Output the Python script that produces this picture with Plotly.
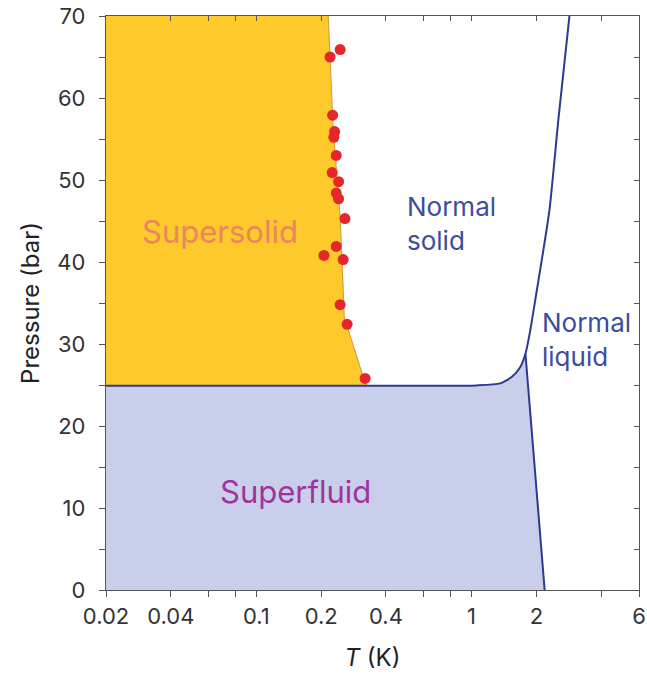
import plotly.graph_objects as go

# ---- data ----
# melting curve (solid / liquid boundary)
melt_T = [0.02, 0.6, 1.06, 1.36, 1.54, 1.685, 1.78, 1.875, 1.978, 2.30, 2.53, 2.85]
melt_P = [24.9, 24.9, 24.95, 25.2, 26.0, 27.2, 28.8, 31.7, 35.4, 46.3, 57.3, 70.0]
# lambda line (superfluid / normal liquid)
lam_T = [2.186, 1.78]
lam_P = [0.0, 28.8]
# supersolid onset boundary
ss_T = [0.2157, 0.2275, 0.2452, 0.2531, 0.256, 0.317, 0.327]
ss_P = [70.0, 56.1, 45.5, 37.8, 33.3, 25.6, 24.9]
# measured onset points
pts_T = [0.245, 0.220, 0.226, 0.231, 0.229, 0.235, 0.225, 0.241, 0.235, 0.241,
         0.258, 0.235, 0.206, 0.253, 0.245, 0.264, 0.32]
pts_P = [65.9, 65.0, 57.9, 55.9, 55.2, 53.0, 50.9, 49.8, 48.4, 47.7,
         45.3, 41.9, 40.8, 40.3, 34.8, 32.4, 25.8]

x_tickvals = [0.02, 0.04, 0.06, 0.08, 0.1, 0.2, 0.4, 0.6, 0.8, 1, 2, 4, 6]
x_ticktext = ["0.02", "0.04", "", "", "0.1", "0.2", "0.4", "", "", "1", "2", "", "6"]
y_tickvals = list(range(0, 71, 5))
y_ticktext = [str(v) if v % 10 == 0 else "" for v in y_tickvals]

T_MIN, T_MAX = 0.02, 6
P_MIN, P_MAX = 0, 70

YELLOW = "#fdc92b"
LAV = "#c9cfeb"
NAVY = "#2d3a8e"
RED = "#e5262a"

fig = go.Figure()

# supersolid fill
fig.add_trace(go.Scatter(
    x=[T_MIN] + ss_T + [T_MIN], y=[P_MAX] + ss_P + [ss_P[-1]],
    fill="toself", fillcolor=YELLOW, line=dict(width=0), mode="lines",
    hoverinfo="skip", showlegend=False))

# superfluid fill: below melting curve up to junction, left of lambda line
j = melt_T.index(lam_T[-1])
sf_x = [T_MIN, lam_T[0]] + melt_T[j::-1]
sf_y = [P_MIN, lam_P[0]] + melt_P[j::-1]
fig.add_trace(go.Scatter(
    x=sf_x, y=sf_y, fill="toself", fillcolor=LAV, line=dict(width=0),
    mode="lines", hoverinfo="skip", showlegend=False))

# supersolid boundary thin line
fig.add_trace(go.Scatter(x=ss_T, y=ss_P, mode="lines",
                         line=dict(color="#c99a3a", width=1),
                         hoverinfo="skip", showlegend=False))

# melting curve and lambda line
fig.add_trace(go.Scatter(x=melt_T, y=melt_P, mode="lines",
                         line=dict(color=NAVY, width=2, shape="spline", smoothing=0.6),
                         showlegend=False))
fig.add_trace(go.Scatter(x=lam_T, y=lam_P, mode="lines",
                         line=dict(color=NAVY, width=2), showlegend=False))

# data points
fig.add_trace(go.Scatter(x=pts_T, y=pts_P, mode="markers",
                         marker=dict(color=RED, size=11, line=dict(width=0)),
                         showlegend=False))

# invisible trace for mirrored inner ticks
fig.add_trace(go.Scatter(x=[T_MIN], y=[P_MIN], xaxis="x2", yaxis="y2",
                         mode="markers", marker=dict(opacity=0),
                         hoverinfo="skip", showlegend=False))

FONT = "Inter, Liberation Sans, Arial, sans-serif"
AX = "#555555"

fig.update_layout(
    width=647, height=680,
    margin=dict(l=106, r=8, t=16, b=90, autoexpand=False),
    paper_bgcolor="white", plot_bgcolor="white",
    font=dict(family=FONT, size=22, color="#333333"),
    xaxis=dict(type="log", range=[0.3010 - 2, 0.77815], automargin=False,
               tickvals=x_tickvals, ticktext=x_ticktext,
               ticks="outside", ticklen=6, tickwidth=1.2, tickcolor=AX,
               showline=True, linecolor=AX, linewidth=1.3, mirror=True,
               showgrid=False, zeroline=False,
               tickfont=dict(size=22, color="#333333"),
               title=dict(text="<i>T</i> (K)", font=dict(size=24, color="#222222"),
                          standoff=21)),
    yaxis=dict(range=[P_MIN, P_MAX], automargin=False,
               tickvals=y_tickvals, ticktext=y_ticktext,
               ticks="outside", ticklen=6, tickwidth=1.2, tickcolor=AX,
               ticklabelstandoff=9,
               showline=True, linecolor=AX, linewidth=1.3, mirror=True,
               showgrid=False, zeroline=False,
               tickfont=dict(size=22, color="#333333"),
               title=dict(text="Pressure (bar)", font=dict(size=24, color="#222222"),
                          standoff=10)),
    xaxis2=dict(type="log", range=[0.3010 - 2, 0.77815], overlaying="x", side="top",
                automargin=False,
                tickvals=x_tickvals, ticks="inside", ticklen=5, tickwidth=1.2,
                tickcolor=AX, showticklabels=False, showline=False,
                showgrid=False, zeroline=False),
    yaxis2=dict(range=[P_MIN, P_MAX], overlaying="y", side="right",
                automargin=False,
                tickvals=y_tickvals, ticks="inside", ticklen=5, tickwidth=1.2,
                tickcolor=AX, showticklabels=False, showline=False,
                showgrid=False, zeroline=False),
)

# region labels
fig.add_annotation(x=-1.169, y=43.7, xref="x", yref="y", text="Supersolid",
                   showarrow=False, font=dict(size=31, color="#ea8560", family=FONT))
fig.add_annotation(x=-0.82, y=12.0, xref="x", yref="y", text="Superfluid",
                   showarrow=False, font=dict(size=31, color="#a0339b", family=FONT))
fig.add_annotation(x=-0.308, y=44.7, xref="x", yref="y", text="Normal<br>solid",
                   showarrow=False, xanchor="left", align="left",
                   font=dict(size=26, color="#3b4d9c", family=FONT))
fig.add_annotation(x=0.318, y=30.6, xref="x", yref="y", text="Normal<br>liquid",
                   showarrow=False, xanchor="left", align="left",
                   font=dict(size=26, color="#3b4d9c", family=FONT))

fig.write_html("out.html")
